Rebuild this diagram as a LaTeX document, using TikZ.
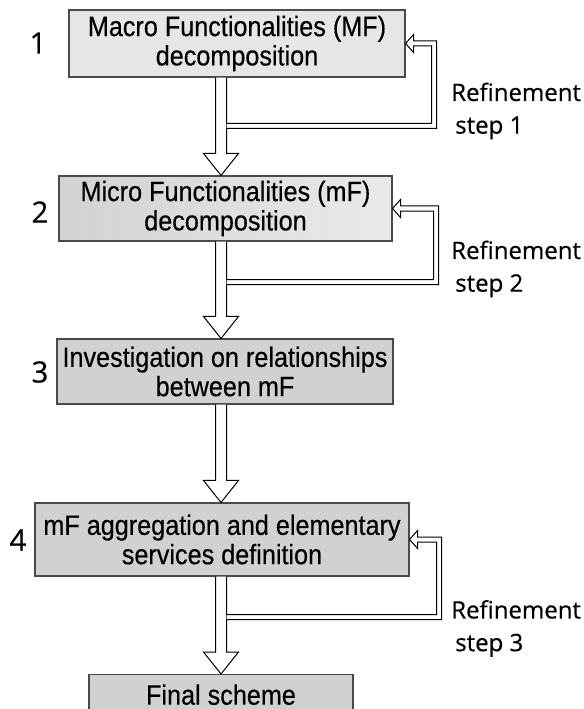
\documentclass[tikz,border=0pt]{standalone}
\usepackage{fontspec}
\setmainfont{Liberation Sans}[FakeStretch=0.9, FakeBold=0.4]
\newfontfamily\labfont{Open Sans}[FakeBold=0.5]
\usetikzlibrary{calc}
\definecolor{boxA}{HTML}{E6E6E6}
\definecolor{boxBl}{HTML}{D2D2D2}
\definecolor{boxBr}{HTML}{EAEAEA}
\definecolor{boxC}{HTML}{D1D1D1}
\definecolor{edge}{HTML}{4A4A4A}
\tikzset{
  box/.style={draw=edge, line width=0.8pt, inner sep=0pt, align=center,
    font=\fontsize{21}{22}\selectfont},
  num/.style={font=\labfont\fontsize{22}{24}\selectfont, inner sep=0pt},
  lab/.style={font=\labfont\fontsize{18}{24.5}\selectfont, inner sep=0pt, align=left, anchor=west},
  arr/.style={draw=black, fill=white, line width=0.75pt, line join=miter}
}
\newcommand\blockdown[2]{%
  \draw[arr] let \p1=(ax |- #1.south), \p2=(ax |- #2.north) in
    (\x1-4.125pt,\y1) -- (\x1-4.125pt,\y2+16.5pt) -- (\x1-13.125pt,\y2+16.5pt) --
    (\x2,\y2) -- (\x1+13.125pt,\y2+16.5pt) -- (\x1+4.125pt,\y2+16.5pt) --
    (\x1+4.125pt,\y1);
}
\newcommand\retarrow[3]{%
  \draw[arr] let \p1=(#1.east), \p2=(#2), \p3=(ax) in
    (\x3+4.125pt,\y2+1.875pt) -- (\x2-1.875pt,\y2+1.875pt) -- (\x2-1.875pt,\y1-1.875pt) --
    (\x1+6pt,\y1-1.875pt) -- (\x1+6pt,\y1-6.75pt) -- (\x1,\y1) -- (\x1+6pt,\y1+6.75pt) --
    (\x1+6pt,\y1+1.875pt) -- (\x2+1.875pt,\y1+1.875pt) -- (\x2+1.875pt,\y2-1.875pt) --
    (\x3+4.125pt,\y2-1.875pt);
}
\begin{document}
\begin{tikzpicture}[x=0.75pt, y=-0.75pt]
\useasboundingbox (0,0) rectangle (584,709);
\clip (0,0) rectangle (584,709);
\coordinate (ax) at (221,0);

\node[box, fill=boxA, minimum width=252pt, minimum height=50.25pt] (b1) at (237,43.5)
  {Macro Functionalities (MF)\\decomposition};
\node[box, left color=boxBl, right color=boxBr, minimum width=249.75pt, minimum height=48.75pt] (b2) at (225.5,208.5)
  {Micro Functionalities (mF)\\decomposition};
\node[box, fill=boxC, minimum width=252pt, minimum height=48.75pt] (b3) at (225,371.5)
  {Investigation on relationships\\between mF};
\node[box, fill=boxC, minimum width=280.5pt, minimum height=54.75pt] (b4) at (222,539.5)
  {mF aggregation and elementary\\services definition};
\node[box, fill=boxC, minimum width=198pt, minimum height=52pt, anchor=north] (fin) at (221,674)
  {Final scheme\\~};

\node[num] (n1) at (38,43) {1};
\node[num] (n2) at (40,212) {2};
\node[num] (n3) at (40,372) {3};
\node[num] (n4) at (18,540) {4};

\blockdown{b1}{b2}
\blockdown{b2}{b3}
\blockdown{b3}{b4}
\blockdown{b4}{fin}

\coordinate (v1) at (434,126);
\coordinate (v2) at (436,282);
\coordinate (v3) at (439,617);
\retarrow{b1}{v1}{1}
\retarrow{b2}{v2}{2}
\retarrow{b4}{v3}{3}

\node[lab] (r1) at (451,111) {Refinement\\\hspace*{3pt}step 1};
\node[lab] (r2) at (451,269) {Refinement\\\hspace*{3pt}step 2};
\node[lab] (r3) at (451,628.5) {Refinement\\\hspace*{3pt}step 3};
\end{tikzpicture}
\end{document}
